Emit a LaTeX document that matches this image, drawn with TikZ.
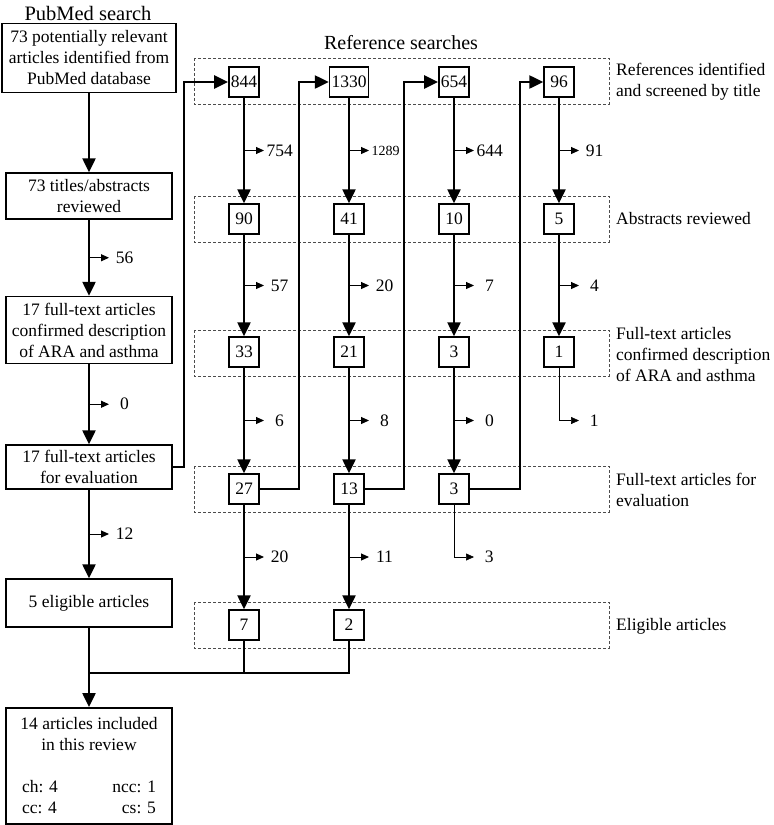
\documentclass[tikz,border=0pt]{standalone}
\usepackage{fontspec}
\setmainfont{Liberation Serif}
\usetikzlibrary{arrows.meta,calc}
\begin{document}
\begin{tikzpicture}[x=1pt,y=-1pt,font=\fontsize{17.5}{21}\selectfont]
  \tikzstyle{pmbox}=[draw=black, line width=1.5pt, align=center, inner sep=3pt, minimum width=166pt]
  \tikzstyle{numbox}=[draw=black, line width=1.5pt, inner sep=2pt, minimum width=30pt, minimum height=30pt]
  \tikzstyle{band}=[draw=black!70, line width=0.8pt, dash pattern=on 3pt off 2pt]
  \tikzstyle{rowlabel}=[anchor=west, align=left, inner sep=3pt]
  \tikzstyle{flow}=[line width=2.5pt, -{Triangle[length=14pt,width=13pt]}]
  \tikzstyle{mainline}=[line width=2.5pt]
  \tikzstyle{excl}=[line width=1pt, -{Triangle[length=8pt,width=7pt]}]
  \tikzstyle{lost}=[line width=0.6pt, -{Triangle[length=8pt,width=7pt]}]
  \tikzstyle{exlab}=[anchor=west, text width=26pt, align=center, inner sep=0pt, xshift=2pt]
  \useasboundingbox (0,0) rectangle (774,825);
  \foreach \y in {58,196,330,466,602}
    \draw[band] (194,\y) rectangle (609,\y+46);
  \node[font=\fontsize{20.5}{24}\selectfont] (pmtitle) at (88,13) {PubMed search};
  \node[font=\fontsize{20}{24}\selectfont] (reftitle) at (401,43) {Reference searches};
  \node[pmbox, minimum width=174pt, minimum height=69pt] (pm1) at (89,58) {73 potentially relevant\\articles identified from\\PubMed database};
  \node[pmbox, minimum height=46pt] (pm2) at (89,196) {73 titles/abstracts\\reviewed};
  \node[pmbox, minimum height=67pt] (pm3) at (89,330) {17 full-text articles\\confirmed description\\of ARA and asthma};
  \node[pmbox, minimum height=44pt] (pm4) at (89,467) {17 full-text articles\\for evaluation};
  \node[pmbox, minimum height=48pt] (pm5) at (89,603) {5 eligible articles};
  \node[pmbox, minimum height=116pt, anchor=north] (pm6) at (89,707) {14 articles included\\in this review\\[21pt]\makebox[134pt]{ch: 4\hfill ncc: 1}\\\makebox[134pt]{cc: 4\hfill cs: 5}};
  \node[numbox] (r1a) at (244,82) {844};
  \node[numbox] (r1b) at (349,82) {1330};
  \node[numbox] (r1c) at (454,82) {654};
  \node[numbox] (r1d) at (559,82) {96};
  \node[numbox] (r2a) at (244,219) {90};
  \node[numbox] (r2b) at (349,219) {41};
  \node[numbox] (r2c) at (454,219) {10};
  \node[numbox] (r2d) at (559,219) {5};
  \node[numbox] (r3a) at (244,352) {33};
  \node[numbox] (r3b) at (349,352) {21};
  \node[numbox] (r3c) at (454,352) {3};
  \node[numbox] (r3d) at (559,352) {1};
  \node[numbox] (r4a) at (244,489) {27};
  \node[numbox] (r4b) at (349,489) {13};
  \node[numbox] (r4c) at (454,489) {3};
  \node[numbox] (r5a) at (244,625) {7};
  \node[numbox] (r5b) at (349,625) {2};
  \node[rowlabel] (lab1) at (613,82) {References identified\\and screened by title};
  \node[rowlabel] (lab2) at (613,219) {Abstracts reviewed};
  \node[rowlabel] (lab3) at (613,355) {Full-text articles\\confirmed description\\of ARA and asthma};
  \node[rowlabel] (lab4) at (613,490) {Full-text articles for\\evaluation};
  \node[rowlabel] (lab5) at (613,626) {Eligible articles};
  \draw[flow] (pm1) -- (pm2);
  \draw[flow] (pm2) -- (pm3);
  \draw[flow] (pm3) -- (pm4);
  \draw[flow] (pm4) -- (pm5);
  \draw[flow] (pm5) -- (pm6);
  \draw[excl] ($(pm2.south)!.5!(pm3.north)$) -- ++(20,0) node[exlab] {56};
  \draw[excl] ($(pm3.south)!.5!(pm4.north)$) -- ++(20,0) node[exlab] {0};
  \draw[excl] ($(pm4.south)!.5!(pm5.north)$) -- ++(20,0) node[exlab] {12};
  \draw[flow] (pm4.east) -- ++(11,0) |- (r1a.west);
  \draw[flow] (r4a.east) -- ++(39,0) |- (r1b.west);
  \draw[flow] (r4b.east) -- ++(39,0) |- (r1c.west);
  \draw[flow] (r4c.east) -- ++(50,0) |- (r1d.west);
  \draw[flow] (r1a) -- (r2a);
  \draw[flow] (r2a) -- (r3a);
  \draw[flow] (r3a) -- (r4a);
  \draw[flow] (r4a) -- (r5a);
  \draw[flow] (r1b) -- (r2b);
  \draw[flow] (r2b) -- (r3b);
  \draw[flow] (r3b) -- (r4b);
  \draw[flow] (r4b) -- (r5b);
  \draw[flow] (r1c) -- (r2c);
  \draw[flow] (r2c) -- (r3c);
  \draw[flow] (r3c) -- (r4c);
  \draw[flow] (r1d) -- (r2d);
  \draw[flow] (r2d) -- (r3d);
  \draw[excl] ($(r1a.south)!.5!(r2a.north)$) -- ++(20,0) node[exlab] {754};
  \draw[excl] ($(r1b.south)!.5!(r2b.north)$) -- ++(20,0) node[exlab, font=\fontsize{14}{17}\selectfont] {1289};
  \draw[excl] ($(r1c.south)!.5!(r2c.north)$) -- ++(20,0) node[exlab] {644};
  \draw[excl] ($(r1d.south)!.5!(r2d.north)$) -- ++(20,0) node[exlab] {91};
  \draw[excl] ($(r2a.south)!.5!(r3a.north)$) -- ++(20,0) node[exlab] {57};
  \draw[excl] ($(r2b.south)!.5!(r3b.north)$) -- ++(20,0) node[exlab] {20};
  \draw[excl] ($(r2c.south)!.5!(r3c.north)$) -- ++(20,0) node[exlab] {7};
  \draw[excl] ($(r2d.south)!.5!(r3d.north)$) -- ++(20,0) node[exlab] {4};
  \draw[excl] ($(r3a.south)!.5!(r4a.north)$) -- ++(20,0) node[exlab] {6};
  \draw[excl] ($(r3b.south)!.5!(r4b.north)$) -- ++(20,0) node[exlab] {8};
  \draw[excl] ($(r3c.south)!.5!(r4c.north)$) -- ++(20,0) node[exlab] {0};
  \draw[lost] (r3d.south) -- ($(r3d.south)!.5!(r3d.south |- r4c.north)$) -- ++(20,0) node[exlab] {1};
  \draw[excl] ($(r4a.south)!.5!(r5a.north)$) -- ++(20,0) node[exlab] {20};
  \draw[excl] ($(r4b.south)!.5!(r5b.north)$) -- ++(20,0) node[exlab] {11};
  \draw[lost] (r4c.south) -- ($(r4c.south)!.5!(r4c.south |- r5a.north)$) -- ++(20,0) node[exlab] {3};
  \coordinate (merge) at (89,673);
  \draw[mainline] (r5a.south) -- (r5a.south |- merge);
  \draw[mainline] (r5b.south) |- (merge);
\end{tikzpicture}
\end{document}
